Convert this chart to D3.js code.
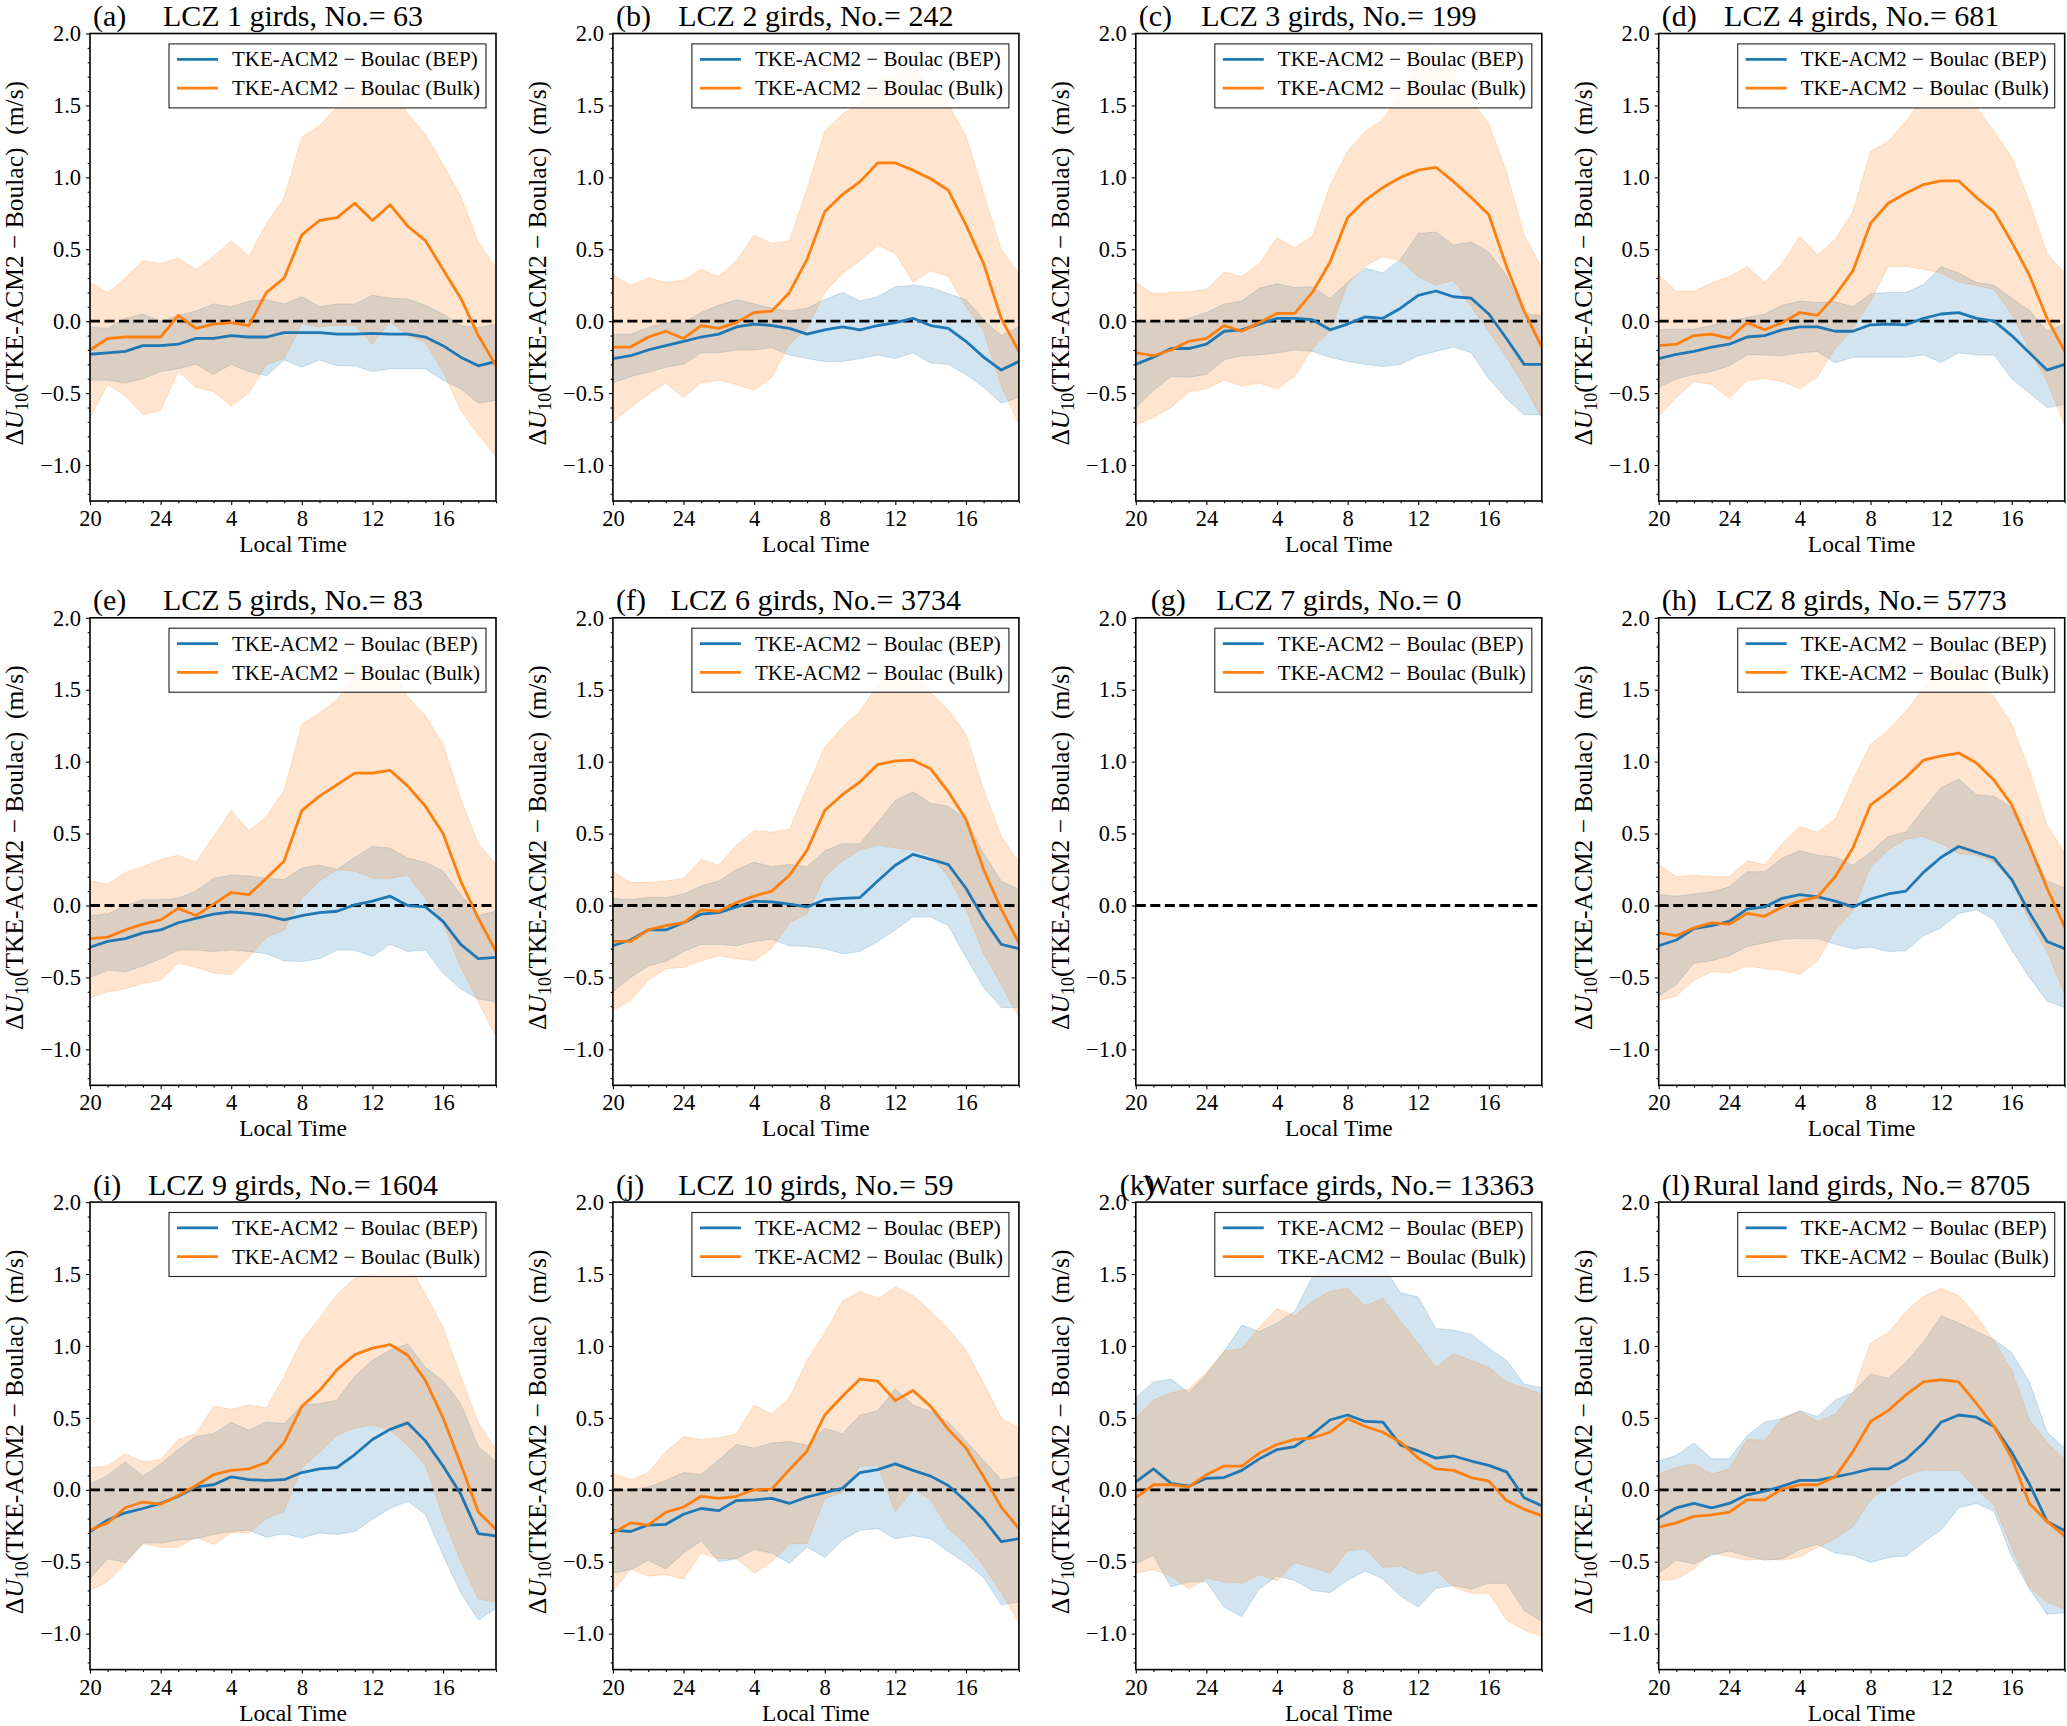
<!DOCTYPE html>
<html>
<head>
<meta charset="utf-8">
<title>Diurnal U10 differences by LCZ</title>
<script src="https://d3js.org/d3.v7.min.js"></script>
<style>
  body { margin: 0; background: #fff; }
  svg { display: block; font-family: "Liberation Serif", "DejaVu Serif", serif; }
</style>
</head>
<body>
<svg id="chart" width="2067" height="1726"></svg>
<script>
// hours on the x axis (20 LT of day 1 to 19 LT of day 2)
const hours = [20, 21, 22, 23, 24, 25, 26, 27, 28, 29, 30, 31, 32, 33, 34, 35, 36, 37, 38, 39, 40, 41, 42, 43];
const xTicks = [20, 24, 28, 32, 36, 40];
const xTickLabels = ["20", "24", "4", "8", "12", "16"];
const yTicks = [-1.0, -0.5, 0.0, 0.5, 1.0, 1.5, 2.0];
const seriesNames = ["TKE-ACM2 \u2212 Boulac (BEP)", "TKE-ACM2 \u2212 Boulac (Bulk)"];

// (a) LCZ 1
const a_bep = [-0.23,-0.22,-0.21,-0.17,-0.17,-0.16,-0.12,-0.12,-0.10,-0.11,-0.11,-0.08,-0.08,-0.08,-0.09,-0.09,-0.085,-0.09,-0.09,-0.11,-0.17,-0.25,-0.31,-0.28];
const a_bepHi = [-0.04,-0.05,0.02,0.05,0.00,0.04,0.07,0.12,0.10,0.14,0.15,0.12,0.17,0.10,0.12,0.12,0.18,0.16,0.155,0.11,0.05,-0.03,-0.045,-0.02];
const a_bepLo = [-0.41,-0.41,-0.43,-0.40,-0.35,-0.33,-0.30,-0.37,-0.30,-0.35,-0.38,-0.27,-0.32,-0.27,-0.31,-0.31,-0.35,-0.33,-0.33,-0.33,-0.41,-0.47,-0.57,-0.55];
const a_bulk = [-0.20,-0.12,-0.11,-0.11,-0.11,0.04,-0.05,-0.02,-0.01,-0.03,0.20,0.30,0.60,0.70,0.72,0.82,0.70,0.81,0.66,0.56,0.36,0.16,-0.10,-0.31];
const a_bulkHi = [0.27,0.20,0.30,0.42,0.40,0.44,0.36,0.45,0.56,0.45,0.68,0.86,1.28,1.36,1.49,1.66,1.61,1.66,1.44,1.30,1.09,0.87,0.55,0.37];
const a_bulkLo = [-0.67,-0.44,-0.52,-0.65,-0.62,-0.35,-0.46,-0.49,-0.59,-0.50,-0.30,-0.26,-0.02,-0.04,-0.03,-0.03,-0.16,0.00,-0.10,-0.15,-0.35,-0.62,-0.79,-0.94];

// (b) LCZ 2
const b_bep = [-0.26,-0.24,-0.20,-0.17,-0.14,-0.11,-0.09,-0.04,-0.02,-0.03,-0.05,-0.09,-0.06,-0.04,-0.06,-0.03,-0.01,0.02,-0.03,-0.05,-0.14,-0.25,-0.34,-0.28];
const b_bepHi = [-0.09,-0.09,-0.045,-0.01,-0.01,0.06,0.11,0.15,0.12,0.09,0.07,0.09,0.15,0.20,0.14,0.17,0.24,0.25,0.235,0.19,0.15,0.01,-0.10,-0.04];
const b_bepLo = [-0.43,-0.385,-0.355,-0.32,-0.30,-0.22,-0.22,-0.20,-0.20,-0.185,-0.235,-0.26,-0.28,-0.28,-0.26,-0.235,-0.26,-0.22,-0.29,-0.30,-0.37,-0.46,-0.57,-0.53];
const b_bulk = [-0.18,-0.18,-0.11,-0.07,-0.12,-0.03,-0.05,-0.01,0.06,0.07,0.20,0.43,0.76,0.88,0.97,1.10,1.10,1.05,0.99,0.91,0.67,0.40,0.02,-0.21];
const b_bulkHi = [0.32,0.25,0.30,0.27,0.285,0.36,0.31,0.42,0.60,0.54,0.56,0.92,1.32,1.44,1.51,1.68,1.70,1.76,1.64,1.51,1.29,0.89,0.50,0.33];
const b_bulkLo = [-0.70,-0.60,-0.51,-0.43,-0.53,-0.43,-0.41,-0.44,-0.48,-0.39,-0.16,-0.05,0.20,0.33,0.42,0.53,0.47,0.27,0.35,0.31,0.10,-0.07,-0.45,-0.72];

// (c) LCZ 3
const c_bep = [-0.30,-0.25,-0.19,-0.19,-0.16,-0.07,-0.06,-0.02,0.02,0.02,0.01,-0.06,-0.02,0.03,0.02,0.09,0.18,0.21,0.17,0.16,0.05,-0.12,-0.30,-0.30];
const c_bepHi = [-0.01,0.00,0.00,0.02,0.06,0.12,0.14,0.23,0.26,0.235,0.24,0.16,0.27,0.37,0.335,0.43,0.61,0.62,0.53,0.55,0.48,0.32,0.05,0.04];
const c_bepLo = [-0.60,-0.48,-0.385,-0.39,-0.37,-0.27,-0.24,-0.235,-0.22,-0.20,-0.21,-0.25,-0.28,-0.30,-0.315,-0.30,-0.24,-0.21,-0.18,-0.22,-0.40,-0.54,-0.65,-0.65];
const c_bulk = [-0.22,-0.24,-0.20,-0.14,-0.12,-0.03,-0.07,-0.01,0.055,0.055,0.20,0.41,0.72,0.84,0.93,1.00,1.05,1.07,0.97,0.86,0.74,0.38,0.07,-0.18];
const c_bulkHi = [0.27,0.19,0.20,0.205,0.22,0.34,0.31,0.40,0.58,0.51,0.59,0.94,1.18,1.32,1.40,1.59,1.77,1.91,1.72,1.54,1.37,1.04,0.60,0.37];
const c_bulkLo = [-0.72,-0.67,-0.60,-0.49,-0.47,-0.41,-0.45,-0.43,-0.47,-0.385,-0.19,-0.07,0.26,0.385,0.45,0.42,0.31,0.25,0.285,0.10,-0.07,-0.25,-0.45,-0.67];

// (d) LCZ 4
const d_bep = [-0.26,-0.23,-0.21,-0.18,-0.16,-0.11,-0.10,-0.06,-0.04,-0.04,-0.07,-0.07,-0.025,-0.02,-0.025,0.02,0.05,0.06,0.02,0.00,-0.10,-0.22,-0.34,-0.30];
const d_bepHi = [-0.06,-0.055,-0.055,-0.03,0.00,0.025,0.05,0.11,0.14,0.13,0.135,0.10,0.19,0.20,0.20,0.255,0.38,0.335,0.27,0.25,0.16,0.075,-0.07,-0.02];
const d_bepLo = [-0.46,-0.40,-0.37,-0.35,-0.31,-0.235,-0.235,-0.24,-0.22,-0.21,-0.29,-0.25,-0.25,-0.25,-0.25,-0.235,-0.285,-0.22,-0.235,-0.235,-0.40,-0.50,-0.60,-0.58];
const d_bulk = [-0.17,-0.16,-0.10,-0.09,-0.12,-0.01,-0.06,-0.01,0.06,0.04,0.18,0.35,0.68,0.82,0.89,0.95,0.975,0.975,0.86,0.76,0.55,0.32,0.02,-0.21];
const d_bulkHi = [0.32,0.21,0.21,0.265,0.31,0.38,0.27,0.40,0.59,0.46,0.57,0.76,1.18,1.25,1.39,1.565,1.61,1.68,1.49,1.32,1.14,0.83,0.47,0.335];
const d_bulkLo = [-0.66,-0.53,-0.42,-0.44,-0.54,-0.41,-0.40,-0.42,-0.47,-0.385,-0.19,-0.055,0.14,0.38,0.38,0.36,0.335,0.27,0.25,0.22,0.05,-0.20,-0.42,-0.72];

// (e) LCZ 5
const e_bep = [-0.29,-0.25,-0.23,-0.19,-0.17,-0.12,-0.09,-0.06,-0.045,-0.055,-0.07,-0.10,-0.07,-0.05,-0.04,0.005,0.03,0.065,0.00,-0.01,-0.11,-0.27,-0.37,-0.36];
const e_bepHi = [-0.07,-0.06,0.00,0.04,0.04,0.05,0.10,0.19,0.21,0.205,0.19,0.18,0.26,0.28,0.25,0.335,0.41,0.40,0.33,0.30,0.24,0.075,-0.07,-0.04];
const e_bepLo = [-0.50,-0.45,-0.46,-0.42,-0.37,-0.31,-0.31,-0.32,-0.31,-0.32,-0.335,-0.385,-0.39,-0.37,-0.31,-0.31,-0.355,-0.27,-0.32,-0.31,-0.47,-0.58,-0.65,-0.67];
const e_bulk = [-0.23,-0.22,-0.17,-0.13,-0.10,-0.02,-0.07,0.01,0.09,0.075,0.19,0.31,0.66,0.76,0.84,0.92,0.92,0.94,0.83,0.69,0.50,0.17,-0.09,-0.32];
const e_bulkHi = [0.17,0.15,0.23,0.27,0.32,0.35,0.30,0.48,0.66,0.52,0.62,0.80,1.26,1.34,1.43,1.61,1.62,1.69,1.45,1.32,1.12,0.74,0.43,0.285];
const e_bulkLo = [-0.64,-0.60,-0.58,-0.54,-0.52,-0.40,-0.43,-0.47,-0.48,-0.36,-0.22,-0.17,0.05,0.17,0.25,0.24,0.19,0.19,0.21,0.05,-0.12,-0.43,-0.67,-0.91];

// (f) LCZ 6
const f_bep = [-0.28,-0.24,-0.17,-0.17,-0.12,-0.06,-0.05,-0.01,0.03,0.025,0.01,-0.01,0.04,0.05,0.055,0.17,0.28,0.355,0.32,0.285,0.12,-0.09,-0.27,-0.30];
const f_bepHi = [0.05,0.04,0.055,0.055,0.08,0.135,0.17,0.25,0.30,0.27,0.285,0.27,0.38,0.43,0.43,0.58,0.73,0.79,0.71,0.69,0.60,0.36,0.17,0.11];
const f_bepLo = [-0.60,-0.50,-0.42,-0.39,-0.32,-0.27,-0.27,-0.28,-0.25,-0.235,-0.28,-0.285,-0.30,-0.335,-0.32,-0.25,-0.17,-0.08,-0.08,-0.14,-0.36,-0.57,-0.71,-0.71];
const f_bulk = [-0.25,-0.25,-0.17,-0.14,-0.12,-0.03,-0.04,0.02,0.065,0.10,0.21,0.385,0.66,0.77,0.86,0.98,1.005,1.01,0.95,0.79,0.60,0.25,-0.025,-0.26];
const f_bulkHi = [0.235,0.16,0.16,0.17,0.19,0.32,0.28,0.42,0.52,0.51,0.53,0.82,1.10,1.24,1.35,1.54,1.60,1.64,1.48,1.36,1.19,0.81,0.48,0.30];
const f_bulkLo = [-0.73,-0.66,-0.52,-0.44,-0.43,-0.385,-0.35,-0.37,-0.385,-0.30,-0.12,-0.06,0.20,0.31,0.385,0.42,0.40,0.385,0.35,0.20,-0.025,-0.335,-0.55,-0.78];

// (g) LCZ 7: no grids, nothing to draw
const g_bep = [], g_bepHi = [], g_bepLo = [], g_bulk = [], g_bulkHi = [], g_bulkLo = [];

// (h) LCZ 8
const h_bep = [-0.28,-0.24,-0.16,-0.14,-0.11,-0.025,-0.01,0.05,0.075,0.06,0.03,-0.01,0.045,0.08,0.10,0.23,0.335,0.41,0.37,0.33,0.18,-0.05,-0.25,-0.30];
const h_bepHi = [0.075,0.065,0.08,0.095,0.13,0.235,0.235,0.33,0.38,0.35,0.335,0.28,0.37,0.48,0.51,0.67,0.82,0.88,0.77,0.76,0.68,0.41,0.17,0.12];
const h_bepLo = [-0.63,-0.55,-0.40,-0.385,-0.35,-0.285,-0.26,-0.235,-0.23,-0.23,-0.27,-0.30,-0.29,-0.32,-0.315,-0.21,-0.155,-0.055,-0.03,-0.10,-0.31,-0.50,-0.665,-0.71];
const h_bulk = [-0.19,-0.21,-0.155,-0.12,-0.13,-0.055,-0.075,-0.01,0.03,0.06,0.20,0.40,0.70,0.79,0.89,1.01,1.04,1.06,0.99,0.87,0.70,0.42,0.12,-0.15];
const h_bulkHi = [0.285,0.20,0.21,0.20,0.20,0.31,0.285,0.43,0.55,0.51,0.60,0.87,1.12,1.22,1.35,1.51,1.64,1.76,1.60,1.45,1.26,0.94,0.56,0.36];
const h_bulkLo = [-0.66,-0.63,-0.52,-0.46,-0.47,-0.42,-0.44,-0.45,-0.48,-0.385,-0.17,-0.04,0.27,0.385,0.46,0.48,0.43,0.36,0.35,0.30,0.17,-0.11,-0.32,-0.62];

// (i) LCZ 9
const i_bep = [-0.29,-0.21,-0.16,-0.13,-0.095,-0.045,0.02,0.035,0.09,0.07,0.065,0.07,0.12,0.145,0.155,0.245,0.35,0.42,0.465,0.34,0.165,-0.03,-0.305,-0.32];
const i_bepHi = [0.04,0.10,0.195,0.095,0.18,0.28,0.37,0.39,0.47,0.415,0.47,0.46,0.59,0.60,0.625,0.79,0.90,0.97,1.015,0.85,0.76,0.60,0.30,0.195];
const i_bepLo = [-0.615,-0.48,-0.505,-0.37,-0.37,-0.35,-0.34,-0.31,-0.29,-0.28,-0.33,-0.305,-0.335,-0.30,-0.31,-0.29,-0.205,-0.13,-0.08,-0.17,-0.455,-0.715,-0.905,-0.825];
const i_bulk = [-0.28,-0.23,-0.125,-0.085,-0.10,-0.04,0.03,0.105,0.135,0.145,0.19,0.33,0.58,0.69,0.835,0.94,0.985,1.01,0.935,0.76,0.50,0.18,-0.155,-0.275];
const i_bulkHi = [0.155,0.165,0.25,0.195,0.21,0.35,0.39,0.58,0.56,0.59,0.57,0.79,1.04,1.195,1.36,1.47,1.505,1.575,1.58,1.36,1.13,0.79,0.465,0.28];
const i_bulkLo = [-0.70,-0.64,-0.515,-0.375,-0.40,-0.40,-0.33,-0.38,-0.30,-0.30,-0.20,-0.15,0.155,0.26,0.38,0.43,0.45,0.415,0.31,0.17,-0.19,-0.50,-0.76,-0.78];

// (j) LCZ 10
const j_bep = [-0.28,-0.29,-0.245,-0.24,-0.17,-0.13,-0.145,-0.075,-0.07,-0.06,-0.095,-0.05,-0.02,0.01,0.12,0.14,0.18,0.135,0.095,0.03,-0.08,-0.205,-0.36,-0.34];
const j_bepHi = [0.005,0.00,0.02,0.065,0.12,0.105,0.21,0.315,0.29,0.325,0.335,0.31,0.43,0.39,0.52,0.55,0.70,0.59,0.545,0.47,0.34,0.205,0.07,0.09];
const j_bepLo = [-0.58,-0.555,-0.49,-0.55,-0.44,-0.355,-0.50,-0.48,-0.415,-0.44,-0.51,-0.40,-0.47,-0.35,-0.28,-0.27,-0.34,-0.32,-0.34,-0.43,-0.51,-0.61,-0.80,-0.78];
const j_bulk = [-0.30,-0.23,-0.245,-0.155,-0.12,-0.045,-0.06,-0.045,0.00,0.005,0.14,0.27,0.52,0.65,0.77,0.755,0.62,0.69,0.58,0.42,0.29,0.09,-0.12,-0.27];
const j_bulkHi = [0.115,0.07,0.12,0.265,0.37,0.35,0.36,0.39,0.59,0.525,0.64,0.90,1.09,1.31,1.38,1.33,1.41,1.35,1.24,1.12,0.97,0.74,0.50,0.43];
const j_bulkLo = [-0.71,-0.55,-0.60,-0.59,-0.62,-0.44,-0.48,-0.48,-0.58,-0.50,-0.375,-0.375,-0.06,-0.02,0.165,0.17,-0.155,0.005,-0.07,-0.27,-0.375,-0.53,-0.715,-0.925];

// (k) water surface
const k_bep = [0.055,0.145,0.045,0.025,0.08,0.085,0.135,0.215,0.28,0.30,0.385,0.485,0.52,0.475,0.47,0.31,0.27,0.22,0.235,0.20,0.17,0.125,-0.055,-0.11];
const k_bepHi = [0.64,0.75,0.77,0.675,0.80,0.96,1.145,1.10,1.16,1.24,1.48,1.63,1.63,1.52,1.56,1.37,1.34,1.12,1.11,1.08,0.985,0.90,0.735,0.71];
const k_bepLo = [-0.515,-0.455,-0.675,-0.64,-0.64,-0.815,-0.88,-0.69,-0.60,-0.63,-0.70,-0.715,-0.63,-0.565,-0.62,-0.74,-0.815,-0.685,-0.665,-0.69,-0.65,-0.65,-0.84,-0.915];
const k_bulk = [-0.055,0.035,0.035,0.02,0.105,0.165,0.165,0.255,0.315,0.35,0.36,0.40,0.495,0.44,0.40,0.33,0.22,0.145,0.135,0.085,0.06,-0.075,-0.135,-0.18];
const k_bulkHi = [0.50,0.625,0.675,0.70,0.815,0.965,0.98,1.13,1.26,1.21,1.31,1.38,1.40,1.28,1.33,1.17,1.02,0.85,0.945,0.90,0.85,0.75,0.71,0.665];
const k_bulkLo = [-0.58,-0.555,-0.60,-0.69,-0.615,-0.64,-0.65,-0.59,-0.63,-0.505,-0.54,-0.58,-0.425,-0.41,-0.54,-0.53,-0.585,-0.56,-0.675,-0.72,-0.72,-0.905,-0.975,-1.02];

// (l) rural land
const l_bep = [-0.195,-0.125,-0.095,-0.125,-0.095,-0.035,-0.01,0.025,0.065,0.065,0.09,0.115,0.145,0.145,0.21,0.325,0.47,0.52,0.505,0.44,0.26,0.04,-0.22,-0.285];
const l_bepHi = [0.20,0.24,0.325,0.215,0.215,0.375,0.47,0.495,0.55,0.51,0.625,0.675,0.805,0.775,0.885,1.025,1.21,1.16,1.10,1.045,0.955,0.75,0.40,0.29];
const l_bepLo = [-0.58,-0.49,-0.515,-0.455,-0.425,-0.46,-0.49,-0.48,-0.415,-0.38,-0.44,-0.455,-0.505,-0.47,-0.46,-0.365,-0.28,-0.125,-0.095,-0.15,-0.465,-0.69,-0.865,-0.855];
const l_bulk = [-0.26,-0.23,-0.185,-0.175,-0.155,-0.07,-0.07,0.005,0.035,0.035,0.09,0.265,0.475,0.55,0.66,0.75,0.765,0.75,0.60,0.44,0.22,-0.095,-0.22,-0.32];
const l_bulkHi = [0.11,0.155,0.18,0.11,0.145,0.35,0.345,0.50,0.545,0.475,0.525,0.68,1.02,1.09,1.24,1.345,1.40,1.35,1.21,1.035,0.83,0.485,0.33,0.21];
const l_bulkLo = [-0.63,-0.62,-0.55,-0.44,-0.465,-0.49,-0.48,-0.49,-0.465,-0.40,-0.34,-0.255,-0.07,0.02,0.095,0.14,0.135,0.135,0.005,-0.105,-0.405,-0.68,-0.78,-0.83];

const panels = [
  { tag: "(a)", title: "LCZ 1 girds, No.= 63", bep: a_bep, bepLo: a_bepLo, bepHi: a_bepHi, bulk: a_bulk, bulkLo: a_bulkLo, bulkHi: a_bulkHi },
  { tag: "(b)", title: "LCZ 2 girds, No.= 242", bep: b_bep, bepLo: b_bepLo, bepHi: b_bepHi, bulk: b_bulk, bulkLo: b_bulkLo, bulkHi: b_bulkHi },
  { tag: "(c)", title: "LCZ 3 girds, No.= 199", bep: c_bep, bepLo: c_bepLo, bepHi: c_bepHi, bulk: c_bulk, bulkLo: c_bulkLo, bulkHi: c_bulkHi },
  { tag: "(d)", title: "LCZ 4 girds, No.= 681", bep: d_bep, bepLo: d_bepLo, bepHi: d_bepHi, bulk: d_bulk, bulkLo: d_bulkLo, bulkHi: d_bulkHi },
  { tag: "(e)", title: "LCZ 5 girds, No.= 83", bep: e_bep, bepLo: e_bepLo, bepHi: e_bepHi, bulk: e_bulk, bulkLo: e_bulkLo, bulkHi: e_bulkHi },
  { tag: "(f)", title: "LCZ 6 girds, No.= 3734", bep: f_bep, bepLo: f_bepLo, bepHi: f_bepHi, bulk: f_bulk, bulkLo: f_bulkLo, bulkHi: f_bulkHi },
  { tag: "(g)", title: "LCZ 7 girds, No.= 0", bep: g_bep, bepLo: g_bepLo, bepHi: g_bepHi, bulk: g_bulk, bulkLo: g_bulkLo, bulkHi: g_bulkHi },
  { tag: "(h)", title: "LCZ 8 girds, No.= 5773", bep: h_bep, bepLo: h_bepLo, bepHi: h_bepHi, bulk: h_bulk, bulkLo: h_bulkLo, bulkHi: h_bulkHi },
  { tag: "(i)", title: "LCZ 9 girds, No.= 1604", bep: i_bep, bepLo: i_bepLo, bepHi: i_bepHi, bulk: i_bulk, bulkLo: i_bulkLo, bulkHi: i_bulkHi },
  { tag: "(j)", title: "LCZ 10 girds, No.= 59", bep: j_bep, bepLo: j_bepLo, bepHi: j_bepHi, bulk: j_bulk, bulkLo: j_bulkLo, bulkHi: j_bulkHi },
  { tag: "(k)", title: "Water surface girds, No.= 13363", bep: k_bep, bepLo: k_bepLo, bepHi: k_bepHi, bulk: k_bulk, bulkLo: k_bulkLo, bulkHi: k_bulkHi },
  { tag: "(l)", title: "Rural land girds, No.= 8705", bep: l_bep, bepLo: l_bepLo, bepHi: l_bepHi, bulk: l_bulk, bulkLo: l_bulkLo, bulkHi: l_bulkHi }
];

// layout
const W = 406, H = 467.5;
const colStep = 522.9, rowStep = 584.3, left0 = 90, top0 = 33.5;
const blue = "#1f77b4", orange = "#ff7f0e";
const tagNudge = { "(g)": 12, "(k)": -19 };

const svg = d3.select("#chart");
const x = d3.scaleLinear([20, 43], [0, W]);
const y = d3.scaleLinear([-1.25, 2.0], [H, 0]);
const yMinor = d3.range(-12, 21).filter(v => v % 5 !== 0).map(v => v / 10);
const xMinor = hours.filter(h => !xTicks.includes(h));
const fmtY = d3.format(".1f");

svg.append("defs").append("clipPath").attr("id", "plotClip")
  .append("rect").attr("width", W).attr("height", H);

function styleAxis(sel, size) {
  sel.attr("font-family", null).attr("font-size", size);
  sel.select(".domain").remove();
  sel.selectAll(".tick line").attr("stroke", "#000").attr("stroke-width", 1.1);
  sel.selectAll(".tick text").attr("fill", "#000");
}

panels.forEach((p, i) => {
  const col = i % 4, row = Math.floor(i / 4);
  const g = svg.append("g")
    .attr("transform", `translate(${left0 + col * colStep},${top0 + row * rowStep})`);

  const plot = g.append("g").attr("clip-path", "url(#plotClip)");

  const band = (lo, hi) => d3.area()
    .x((d, k) => x(hours[k]))
    .y0((d, k) => y(lo[k]))
    .y1((d, k) => y(hi[k]));
  const line = vals => d3.line()
    .x((d, k) => x(hours[k]))
    .y((d, k) => y(vals[k]));

  if (p.bep.length) {
    plot.append("path").datum(p.bep).attr("d", band(p.bepLo, p.bepHi))
      .attr("fill", blue).attr("fill-opacity", 0.2).attr("stroke", blue).attr("stroke-opacity", 0.2).attr("stroke-width", 1);
    plot.append("path").datum(p.bulk).attr("d", band(p.bulkLo, p.bulkHi))
      .attr("fill", orange).attr("fill-opacity", 0.2).attr("stroke", orange).attr("stroke-opacity", 0.2).attr("stroke-width", 1);
  }

  // zero reference
  plot.append("line")
    .attr("x1", 0).attr("x2", W).attr("y1", y(0)).attr("y2", y(0))
    .attr("stroke", "#000").attr("stroke-width", 2.8).attr("stroke-dasharray", "10,4.5");

  if (p.bep.length) {
    plot.append("path").datum(p.bep).attr("d", line(p.bep))
      .attr("fill", "none").attr("stroke", blue).attr("stroke-width", 2.8).attr("stroke-linejoin", "round");
    plot.append("path").datum(p.bulk).attr("d", line(p.bulk))
      .attr("fill", "none").attr("stroke", orange).attr("stroke-width", 2.8).attr("stroke-linejoin", "round");
  }

  // axes
  g.append("g").call(d3.axisLeft(y).tickValues(yMinor).tickFormat("").tickSize(2.3))
    .call(s => styleAxis(s, 22.5));
  g.append("g").call(d3.axisLeft(y).tickValues(yTicks).tickFormat(fmtY).tickSize(4).tickPadding(5))
    .call(s => styleAxis(s, 22.5));
  g.append("g").attr("transform", `translate(0,${H})`)
    .call(d3.axisBottom(x).tickValues(xMinor).tickFormat("").tickSize(2.3))
    .call(s => styleAxis(s, 22.5));
  g.append("g").attr("transform", `translate(0,${H})`)
    .call(d3.axisBottom(x).tickValues(xTicks).tickFormat((d, k) => xTickLabels[k]).tickSize(4).tickPadding(5))
    .call(s => styleAxis(s, 22.5));

  // frame
  g.append("rect").attr("width", W).attr("height", H)
    .attr("fill", "none").attr("stroke", "#000").attr("stroke-width", 1.6);

  // axis labels
  g.append("text")
    .attr("x", W / 2).attr("y", H + 51)
    .attr("text-anchor", "middle").attr("font-size", 23.5)
    .text("Local Time");

  const yl = g.append("text")
    .attr("transform", `translate(-67,${H / 2 - 4}) rotate(-90)`)
    .attr("text-anchor", "middle").attr("font-size", 25.5);
  yl.append("tspan").text("\u0394");
  yl.append("tspan").attr("font-style", "italic").text("U");
  yl.append("tspan").attr("font-size", 18).attr("dy", "0.28em").text("10");
  yl.append("tspan").attr("dy", "-0.2em").text("(TKE-ACM2 \u2212 Boulac)\u00a0\u00a0(m/s)");

  // title and panel tag
  g.append("text")
    .attr("x", W / 2).attr("y", -7.5)
    .attr("text-anchor", "middle").attr("font-size", 30)
    .text(p.title);
  g.append("text")
    .attr("x", 3 + (tagNudge[p.tag] || 0)).attr("y", -7.5)
    .attr("font-size", 30)
    .text(p.tag);

  // legend
  const lg = g.append("g").attr("transform", `translate(${W - 10 - 317},10.4)`);
  lg.append("rect").attr("width", 317).attr("height", 64)
    .attr("fill", "#fff").attr("fill-opacity", 0.8)
    .attr("stroke", "#222").attr("stroke-width", 1.1);
  [blue, orange].forEach((c, k) => {
    const yy = 15.4 + k * 28.8;
    lg.append("line").attr("x1", 8).attr("x2", 49).attr("y1", yy).attr("y2", yy)
      .attr("stroke", c).attr("stroke-width", 2.8);
    lg.append("text").attr("x", 63).attr("y", yy + 7.2)
      .attr("font-size", 21).text(seriesNames[k]);
  });
});
</script>
</body>
</html>
